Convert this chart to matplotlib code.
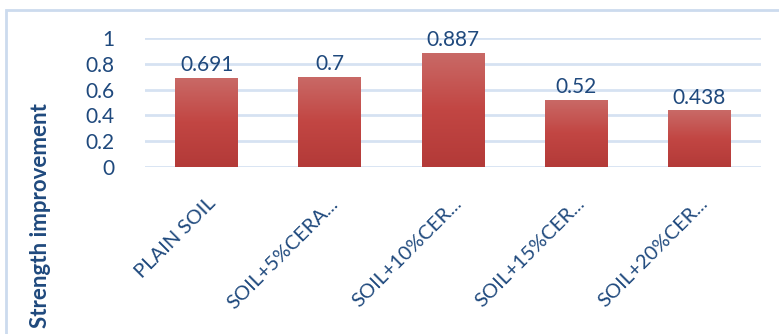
import numpy as np
import matplotlib
matplotlib.use("Agg")
import matplotlib.pyplot as plt
from matplotlib.colors import LinearSegmentedColormap
from matplotlib.patches import Rectangle

categories = ["PLAIN SOIL", "SOIL+5%CERA...", "SOIL+10%CER...", "SOIL+15%CER...", "SOIL+20%CER..."]
values = [0.691, 0.7, 0.887, 0.52, 0.438]
value_labels = ["0.691", "0.7", "0.887", "0.52", "0.438"]
yticks = [0, 0.2, 0.4, 0.6, 0.8, 1]
ytick_labels = ["0", "0.2", "0.4", "0.6", "0.8", "1"]
ylabel = "Strength improvement"

plt.rcParams['font.family'] = ['Lato', 'DejaVu Sans']
text_color = '#1F497D'
grid_color = '#D6E2F2'

fig = plt.figure(figsize=(7.79, 3.34), dpi=100)
W, H = 779, 334
# chart area border
fig.patches.append(Rectangle((6 / W, -0.1), 1.0, (1 - 10 / H) + 0.1, transform=fig.transFigure,
                             fill=False, edgecolor='#CCDBEE', linewidth=2))

ax = fig.add_axes([145 / W, 1 - 167 / H, 616 / W, (167 - 38) / H])
x = np.arange(len(categories))
bars = ax.bar(x, values, width=0.51, color='#C0504D', zorder=3)

cmap = LinearSegmentedColormap.from_list('g', ['#B33A38', '#C24643', '#C96A67'])
grad = np.linspace(0, 1, 256).reshape(-1, 1)
for b in bars:
    x0, y0, w, h = b.get_x(), b.get_y(), b.get_width(), b.get_height()
    im = ax.imshow(grad, cmap=cmap, aspect='auto', origin='lower',
                   extent=(x0, x0 + w, y0, y0 + h), zorder=4)
    im.set_clip_path(b)

ax.set_xlim(-0.5, len(categories) - 0.5)
ax.set_ylim(0, 1)
ax.set_yticks(yticks)
ax.set_yticklabels(ytick_labels)
ax.yaxis.grid(True, color=grid_color, linewidth=2, zorder=0)
ax.set_axisbelow(True)
for s in ax.spines.values():
    s.set_visible(False)
ax.tick_params(axis='y', length=0, pad=22, labelsize=15, labelcolor=text_color)
ax.tick_params(axis='x', length=0, pad=20, labelsize=14.5, labelcolor=text_color)
ax.set_xticks(x)
ax.set_xticklabels(categories, rotation=45, ha='right', va='top', rotation_mode='anchor')

for xi, v, lab in zip(x, values, value_labels):
    ax.annotate(lab, (xi, v), xytext=(0, 2), textcoords='offset points',
                ha='center', va='bottom', fontsize=15, color=text_color, zorder=5,
                annotation_clip=False)

fig.text(41 / W, 1 - 103 / H, ylabel, rotation=90, ha='center', va='top',
         fontsize=16, fontweight='bold', color=text_color)

fig.savefig('out.png', dpi=100)
